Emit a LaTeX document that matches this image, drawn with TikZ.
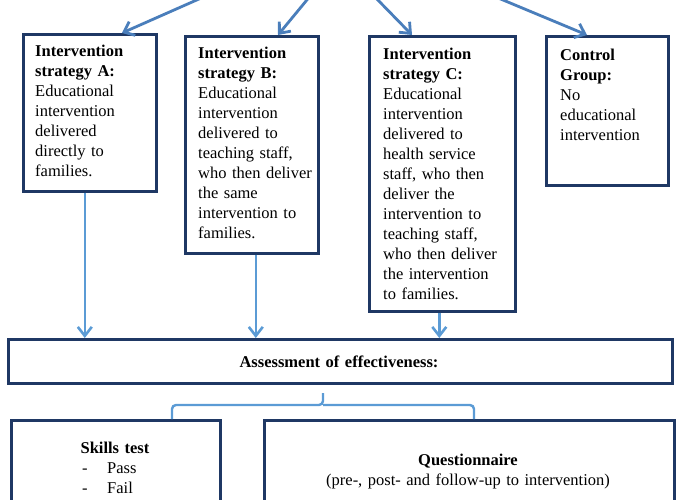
\documentclass[tikz,border=0pt]{standalone}
\usepackage{fontspec}
\setmainfont{Liberation Serif}
\usetikzlibrary{arrows.meta}

\definecolor{boxline}{HTML}{1F3864}
\definecolor{feedblue}{HTML}{4A7EBB}
\definecolor{flowblue}{HTML}{5B9BD5}

\tikzset{
  box/.style={draw=boxline, line width=2.6pt, anchor=north west, inner sep=0pt},
  boxtext/.style={anchor=base west, inner sep=0pt, text width=160pt, align=left,
    font=\fontsize{16.5}{20}\selectfont},
  midtext/.style={anchor=base, inner sep=0pt, text width=400pt, align=center,
    font=\fontsize{16.5}{20}\selectfont},
  feed/.style={draw=feedblue, line width=2.8pt, -{Straight Barb[length=9pt,width=15pt]}},
  flow/.style={draw=flowblue, line width=2.6pt, -{Straight Barb[length=9pt,width=14pt]}},
  brace/.style={draw=flowblue, line width=2.4pt, rounded corners=4pt}
}

\begin{document}
\begin{tikzpicture}[x=1pt, y=-1pt]
\useasboundingbox (0,0) rectangle (680,500);
\clip (0,0) rectangle (680,500);

% the four arms
\node[box, minimum width=133pt, minimum height=157pt] (boxA) at (22,33) {};
\node[boxtext] (txtA) at (35,57) {\textbf{Intervention}\\\textbf{strategy A:}\\Educational\\intervention\\delivered\\directly to\\families.};

\node[box, minimum width=133pt, minimum height=217pt] (boxB) at (184,35) {};
\node[boxtext] (txtB) at (198,59) {\textbf{Intervention}\\\textbf{strategy B:}\\Educational\\intervention\\delivered to\\teaching staff,\\who then deliver\\the same\\intervention to\\families.};

\node[box, minimum width=146pt, minimum height=275pt] (boxC) at (368,35) {};
\node[boxtext] (txtC) at (383,60) {\textbf{Intervention}\\\textbf{strategy C:}\\Educational\\intervention\\delivered to\\health service\\staff, who then\\deliver the\\intervention to\\teaching staff,\\who then deliver\\the intervention\\to families.};

\node[box, minimum width=122pt, minimum height=149pt] (ctrl) at (545,35) {};
\node[boxtext] (txtctrl) at (560,61) {\textbf{Control}\\\textbf{Group:}\\No\\educational\\intervention};

% assessment
\node[box, minimum width=664pt, minimum height=44pt] (assess) at (7,338) {};
\node[midtext] (txtassess) at (339,367) {\textbf{Assessment of effectiveness:}};

\node[box, minimum width=209pt, minimum height=130pt] (skills) at (10,419) {};
\node[midtext, text width=200pt] (txtskills) at (115,453) {\textbf{Skills test}};
\node[boxtext] (txtpass) at (82,473) {\makebox[25pt][l]{-}Pass\\\makebox[25pt][l]{-}Fail};

\node[box, minimum width=410pt, minimum height=130pt] (quest) at (263,419) {};
\node[midtext] (txtquest) at (468,465) {\textbf{Questionnaire}\\(pre-, post- and follow-up to intervention)};

% arrows coming in from above
\coordinate (srcA) at (208,-5);
\coordinate (srcB) at (311,-5);
\coordinate (srcC) at (373,-5);
\coordinate (srcD) at (491,-5);
\draw[feed] (srcA) -- ([xshift=100]boxA.north west);
\draw[feed] (srcB) -- ([xshift=94]boxB.north west);
\draw[feed] (srcC) -- ([xshift=44]boxC.north west);
\draw[feed] (srcD) -- ([xshift=42]ctrl.north west);

% arrows down to assessment
\draw[flow] ([xshift=-5]boxA.south) -- ([xshift=-5]boxA.south |- assess.north);
\draw[flow] ([xshift=4]boxB.south) -- ([xshift=4]boxB.south |- assess.north);
\draw[flow] ([xshift=-3]boxC.south) -- ([xshift=-3]boxC.south |- assess.north);

% bracket to the two measures
\coordinate (tip) at (323,393);
\draw[brace] ([xshift=162]skills.north west) |- (323,405) -- (tip);
\draw[brace] (323,405) -| ([xshift=211]quest.north west);

\end{tikzpicture}
\end{document}
